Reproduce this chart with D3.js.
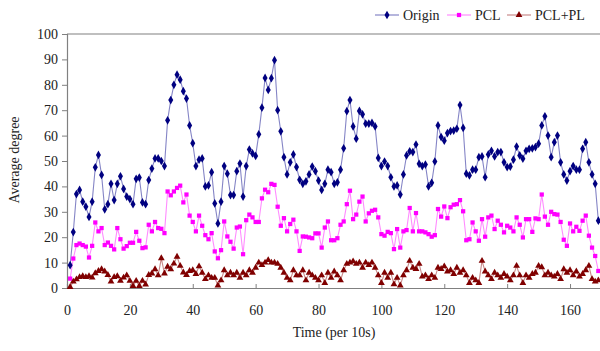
<!DOCTYPE html>
<html>
<head>
<meta charset="utf-8">
<script src="https://cdn.jsdelivr.net/npm/d3@7"></script>
<style>
  body { margin: 0; background: #fff; }
  svg { display: block; font-family: "Liberation Serif", "Times New Roman", serif; }
</style>
</head>
<body>
<div id="chart"></div>
<script>
// values, one point per time step (x = 1..169)
var origin = [9, 22, 37, 38.6, 34, 32, 28, 34, 47.5, 52.4, 44.5, 31, 33, 41, 34.6, 41, 44, 39, 36, 35,
  33, 43, 43.5, 33.7, 33, 42.5, 47, 51, 51, 50, 48, 66, 74, 80, 84, 82, 77.5, 74.6, 64,
  57, 48, 50.5, 51, 40, 40.4, 45.6, 33.3, 25.4, 34, 48, 45, 36.6, 36.6, 46, 49, 36, 48, 54.5, 53,
  52, 60.5, 71, 82.7, 78, 82.6, 89.7, 70, 61.7, 51.5, 44.7, 49.5, 52.6, 47.6, 42.6, 41, 42, 44.7, 47.8, 46,
  42.3, 38.6, 41, 46.6, 45.6, 41, 41.6, 46.6, 55, 69.6, 74, 63.6, 58.8, 69.7, 68.4, 64.7, 64.7, 65, 63.6, 51.2,
  48, 49.8, 48, 43.6, 40, 40.4, 36.8, 44.7, 52.2, 53.8, 53.5, 56.5, 48.9, 48, 48.6, 40, 41.4, 49.8, 64, 59.4,
  58, 61, 61.8, 62, 62.7, 72, 63, 45, 44.3, 46.6, 46.6, 51.5, 51.8, 43.6, 52.6, 54, 51.8, 53.5, 53.5, 49.5,
  47.6, 47.8, 50.5, 55.7, 52.2, 50.9, 54, 54.8, 55, 55.5, 56.8, 64, 67.6, 60, 51.5, 57.4, 60, 49.5, 44.7, 42.3,
  46, 48, 46.6, 46.6, 54.8, 57.4, 49.5, 44.7, 41, 26.5];

var pcl = [3.7, 11.6, 16.9, 17.5, 16.9, 16.3, 12, 16.6, 25.8, 22.3, 23.6, 16.9, 17.9, 16.6, 15.2, 23.6, 19.2, 15.5, 16.5, 17.8,
  17.8, 22.1, 18.6, 15.7, 16, 24.9, 22.3, 26, 23.6, 23.3, 21.6, 38, 36.5, 38, 39.4, 40.3, 33.7, 36.8, 28.5,
  26, 22.3, 28.5, 24.5, 20.8, 19.2, 21.6, 14.4, 11.7, 14.9, 26.2, 20.3, 18.2, 15.5, 23.8, 24.2, 13.3, 26.7, 28.9, 27.8,
  26, 26, 35.3, 38.7, 37.7, 41, 40.6, 32, 24.5, 27.5, 22.3, 25.2, 26.9, 22.3, 14.6, 20.3, 20.2, 19.9, 19.6, 21.5,
  21.5, 15.9, 23.8, 26.2, 18.8, 18.8, 19.6, 24.9, 26.2, 33, 38.3, 27.1, 28.9, 34, 36, 26.2, 29.4, 30.4, 30.8, 27.8,
  21.2, 20.6, 22.1, 21.6, 15.3, 23.2, 15.9, 22.3, 22.8, 31.5, 22.3, 29.5, 22.3, 22.3, 21.9, 21.2, 20.2, 20.8, 31.1, 28.1,
  32.1, 27.5, 31.8, 32.8, 33, 34.6, 30.2, 18.8, 19.2, 25.8, 22.3, 18.6, 27.1, 20.2, 27.8, 28.5, 23.2, 26.5, 24.9, 21.9,
  24.5, 23.8, 22.3, 27.8, 24.9, 19.9, 27.1, 27.1, 22.1, 27.4, 27.1, 36.8, 28.1, 24.9, 30, 29.1, 28.9, 26, 19, 16.6,
  25.4, 22.3, 24.1, 22.5, 26.5, 28.5, 20.6, 15.9, 12.6, 6.7];

var pclPl = [0.4, 2.5, 3.4, 4.3, 4.7, 4.3, 4.7, 4.1, 5.8, 6.7, 7.4, 6.5, 5.1, 2.5, 4.3, 4.7, 2.8, 4.1, 5, 2.8,
  0.8, 2.8, 0.8, 2.8, 1.4, 5.1, 5.7, 7.4, 5, 11.7, 5.7, 8.4, 7.4, 9.6, 12.3, 8.7, 6.1, 5.1, 6.7,
  7, 5.5, 8.5, 6, 3.5, 5, 4, 4, 1, 3, 7, 5, 6, 5, 6, 4, 6, 5, 7, 6,
  8, 10, 9, 10, 11, 10, 10, 9.5, 8, 6, 4, 3, 7, 5, 5, 7, 3, 6, 5, 4,
  3, 5, 2, 6, 4, 6.5, 5, 3, 7, 9.5, 10, 10.5, 9.5, 10, 8, 10, 9, 10, 8, 5,
  2, 6, 4, 6, 1.5, 4, 1, 5, 7, 10.7, 8, 7.5, 9.5, 4.5, 5, 3.5, 5, 4, 8, 7.5,
  8.5, 6.5, 7, 5.5, 8, 6, 7, 5, 2, 4, 3, 2, 10.7, 6.5, 5, 3.5, 6, 5, 4, 5.5,
  4.5, 3, 5, 8.7, 5, 2, 5, 4, 5.5, 6, 8.7, 8.2, 5, 6, 5, 4.5, 5.5, 3.5, 7.4, 6,
  7, 5, 6.5, 4.5, 5.5, 7, 8.7, 3.5, 2.5, 3];

var seriesNames = ["Origin", "PCL", "PCL+PL"];
var xTicks = [0, 20, 40, 60, 80, 100, 120, 140, 160];
var yTicks = [0, 10, 20, 30, 40, 50, 60, 70, 80, 90, 100];

var width = 600, height = 351;
var margin = { left: 67, top: 34, bottom: 288 };

var svg = d3.select("#chart").append("svg")
  .attr("width", width)
  .attr("height", height);

// the original is cut at the right edge, the axis runs on past 600px
var x = d3.scaleLinear().domain([0, 180]).range([margin.left, margin.left + 180 * 3.144]);
var y = d3.scaleLinear().domain([0, 100]).range([margin.bottom, margin.top]);

var styles = [
  { line: "#8585c6", fill: "#000080", symbol: d3.symbolDiamond, size: 22 },
  { line: "#ff8cff", fill: "#ff00ff", symbol: d3.symbolSquare, size: 18 },
  { line: "#c98a8a", fill: "#800000", symbol: d3.symbolTriangle, size: 20 }
];

var series = [origin, pcl, pclPl].map(function(vals, i) {
  return { name: seriesNames[i], style: styles[i],
    values: vals.map(function(v, j) { return { t: j + 1, v: v }; }) };
});

// frame: top line and axes
svg.append("line")
  .attr("x1", margin.left).attr("x2", width)
  .attr("y1", margin.top).attr("y2", margin.top)
  .attr("stroke", "#808080").attr("stroke-width", 1.2);

var yAxis = svg.append("g")
  .attr("transform", "translate(" + margin.left + ",0)")
  .call(d3.axisLeft(y).tickValues(yTicks).tickSize(5).tickPadding(4));

var xAxis = svg.append("g")
  .attr("transform", "translate(0," + margin.bottom + ")")
  .call(d3.axisBottom(x).tickValues(xTicks).tickSize(-4).tickPadding(17));

[xAxis, yAxis].forEach(function(g) {
  g.select(".domain").attr("stroke", "#808080").attr("stroke-width", 1.2);
  g.selectAll(".tick line").attr("stroke", "#808080");
  g.selectAll(".tick text")
    .attr("fill", "#222")
    .style("font-family", "Liberation Serif, serif")
    .style("font-size", "14px");
});

var line = d3.line()
  .x(function(d) { return x(d.t); })
  .y(function(d) { return y(d.v); });

series.forEach(function(s) {
  svg.append("path")
    .datum(s.values)
    .attr("d", line)
    .attr("fill", "none")
    .attr("stroke", s.style.line)
    .attr("stroke-width", 1.1);
});

series.forEach(function(s) {
  var sym = d3.symbol().type(s.style.symbol).size(s.style.size);
  svg.append("g").selectAll("path")
    .data(s.values)
    .enter()
    .append("path")
    .attr("d", sym)
    .attr("transform", function(d) { return "translate(" + x(d.t) + "," + y(d.v) + ")"; })
    .attr("fill", s.style.fill);
});

// axis titles
svg.append("text")
  .attr("x", 334).attr("y", 337)
  .attr("text-anchor", "middle")
  .style("font-size", "14px")
  .attr("fill", "#222")
  .text("Time (per 10s)");

svg.append("text")
  .attr("transform", "translate(19,160) rotate(-90)")
  .attr("text-anchor", "middle")
  .style("font-size", "14px")
  .attr("fill", "#222")
  .text("Average degree");

// legend
var legendX = [375, 447, 507];
var legend = svg.append("g").selectAll("g")
  .data(series)
  .enter()
  .append("g")
  .attr("transform", function(d, i) { return "translate(" + legendX[i] + ",15)"; });

legend.append("line")
  .attr("x1", 0).attr("x2", 24)
  .attr("stroke", function(d) { return d.style.line; })
  .attr("stroke-width", 1.2);

legend.append("path")
  .attr("d", function(d) { return d3.symbol().type(d.style.symbol).size(d.style.size)(); })
  .attr("transform", "translate(12,0)")
  .attr("fill", function(d) { return d.style.fill; });

legend.append("text")
  .attr("x", 28).attr("y", 5)
  .style("font-size", "14px")
  .attr("fill", "#222")
  .text(function(d) { return d.name; });
</script>
</body>
</html>
